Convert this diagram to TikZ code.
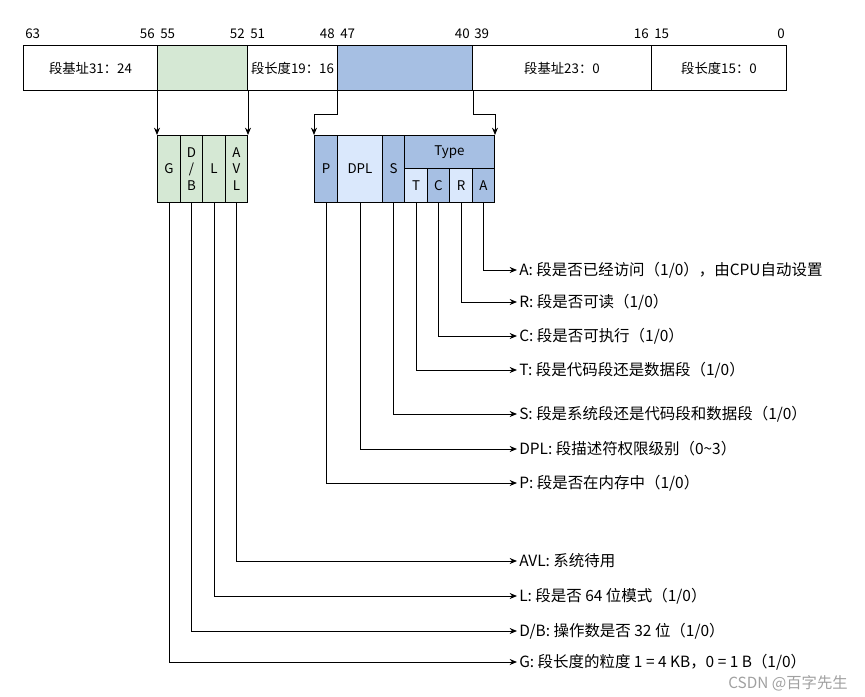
\documentclass[tikz,border=0pt]{standalone}
\usepackage{fontspec}
\setmainfont{Noto Sans CJK SC}
\usetikzlibrary{arrows.meta}
\definecolor{grn}{HTML}{D5E8D4}
\definecolor{lblue}{HTML}{DAE8FC}
\definecolor{dblue}{HTML}{A6BFE3}
\definecolor{wmgray}{HTML}{A0A0A0}
\begin{document}
\begin{tikzpicture}[x=0.75pt,y=-0.75pt,
  font=\fontsize{10}{12.3}\selectfont,
  sz/.style 2 args={minimum width=#1*0.75pt, minimum height=#2*0.75pt},
  cell/.style={draw=black, line width=0.75pt, inner sep=0pt, anchor=north west, align=center},
  bitn/.style={inner sep=0pt},
  lab/.style={anchor=west, inner sep=1.5pt, font=\fontsize{11.6}{14}\selectfont},
  arr/.style={draw=black, line width=0.75pt, -{Stealth[length=5.5pt,width=4.5pt]}},
  conn/.style={draw=black, line width=0.75pt}]
\useasboundingbox (0,0) rectangle (865,697);
% top bar
\node[cell, sz={134}{45}] (t1) at (23,45) {段基址31：24};
\node[cell, sz={90}{45}, fill=grn] (t2) at (157,45) {};
\node[cell, sz={90}{45}] (t3) at (247,45) {段长度19：16};
\node[cell, sz={135}{45}, fill=dblue] (t4) at (337,45) {};
\node[cell, sz={179}{45}] (t5) at (472,45) {段基址23：0};
\node[cell, sz={135}{45}] (t6) at (651,45) {段长度15：0};
% bit numbers
\node[bitn, anchor=base west] (b63) at (25,38) {63};
\node[bitn, anchor=base east] (b56) at (155,38) {56};
\node[bitn, anchor=base west] (b55) at (160,38) {55};
\node[bitn, anchor=base east] (b52) at (245,38) {52};
\node[bitn, anchor=base west] (b51) at (250,38) {51};
\node[bitn, anchor=base east] (b48) at (335,38) {48};
\node[bitn, anchor=base west] (b47) at (340,38) {47};
\node[bitn, anchor=base east] (b40) at (470,38) {40};
\node[bitn, anchor=base west] (b39) at (474,38) {39};
\node[bitn, anchor=base east] (b16) at (649,38) {16};
\node[bitn, anchor=base west] (b15) at (654,38) {15};
\node[bitn, anchor=base east] (b0) at (785,38) {0};
% green group
\node[cell, sz={23}{67}, fill=grn] (G) at (157,135) {G};
\node[cell, sz={22}{67}, fill=grn] (DB) at (180,135) {D\\/\\B};
\node[cell, sz={23}{67}, fill=grn] (L) at (202,135) {L};
\node[cell, sz={22}{67}, fill=grn] (AVL) at (225,135) {A\\V\\L};
% blue group
\node[cell, sz={23}{67}, fill=dblue] (P) at (314,135) {P};
\node[cell, sz={45}{67}, fill=lblue] (DPL) at (337,135) {DPL};
\node[cell, sz={22}{67}, fill=dblue] (S) at (382,135) {S};
\node[cell, sz={90}{33}, fill=dblue] (Type) at (404,135) {Type};
\node[cell, sz={23}{34}, fill=lblue] (T) at (404,168) {T};
\node[cell, sz={22}{34}, fill=dblue] (C) at (427,168) {C};
\node[cell, sz={23}{34}, fill=lblue] (R) at (449,168) {R};
\node[cell, sz={22}{34}, fill=dblue] (A) at (472,168) {A};
% arrows from top bar
\draw[arr] (t2.south west) -- (G.north west);
\draw[arr] (t2.south east) -- (AVL.north east);
\draw[arr] (t4.south west) -- ++(0,23) -| (P.north west);
\draw[arr] (t4.south east) -- ++(0,23) -| (Type.north east);
% labels
\node[lab] (lA) at (517,270) {A: 段是否已经访问（1/0），由CPU自动设置};
\node[lab] (lR) at (517,302) {R: 段是否可读（1/0）};
\node[lab] (lC) at (517,336) {C: 段是否可执行（1/0）};
\node[lab] (lT) at (517,370) {T: 段是代码段还是数据段（1/0）};
\node[lab] (lS) at (517,414) {S: 段是系统段还是代码段和数据段（1/0）};
\node[lab] (lDPL) at (517,449) {DPL: 段描述符权限级别（0\textasciitilde 3）};
\node[lab] (lP) at (517,483) {P: 段是否在内存中（1/0）};
\node[lab] (lAVL) at (517,561) {AVL: 系统待用};
\node[lab] (lL) at (517,596) {L: 段是否 64 位模式（1/0）};
\node[lab] (lDB) at (517,631) {D/B: 操作数是否 32 位（1/0）};
\node[lab] (lG) at (517,662) {G: 段长度的粒度 1 = 4 KB，0 = 1 B（1/0）};
% connectors
\draw[arr] (A.south) |- (lA.west);
\draw[arr] (R.south) |- (lR.west);
\draw[arr] (C.south) |- (lC.west);
\draw[arr] (T.south) |- (lT.west);
\draw[arr] (S.south) |- (lS.west);
\draw[arr] (DPL.south) |- (lDPL.west);
\draw[arr] (P.south) |- (lP.west);
\draw[arr] (AVL.south) |- (lAVL.west);
\draw[arr] (L.south) |- (lL.west);
\draw[arr] (DB.south) |- (lDB.west);
\draw[arr] (G.south) |- (lG.west);
% watermark
\node[anchor=base east, inner sep=0pt, text=wmgray, font=\fontsize{11.5}{13}\selectfont] (wm) at (848,688) {CSDN @百字先生};
\end{tikzpicture}
\end{document}
